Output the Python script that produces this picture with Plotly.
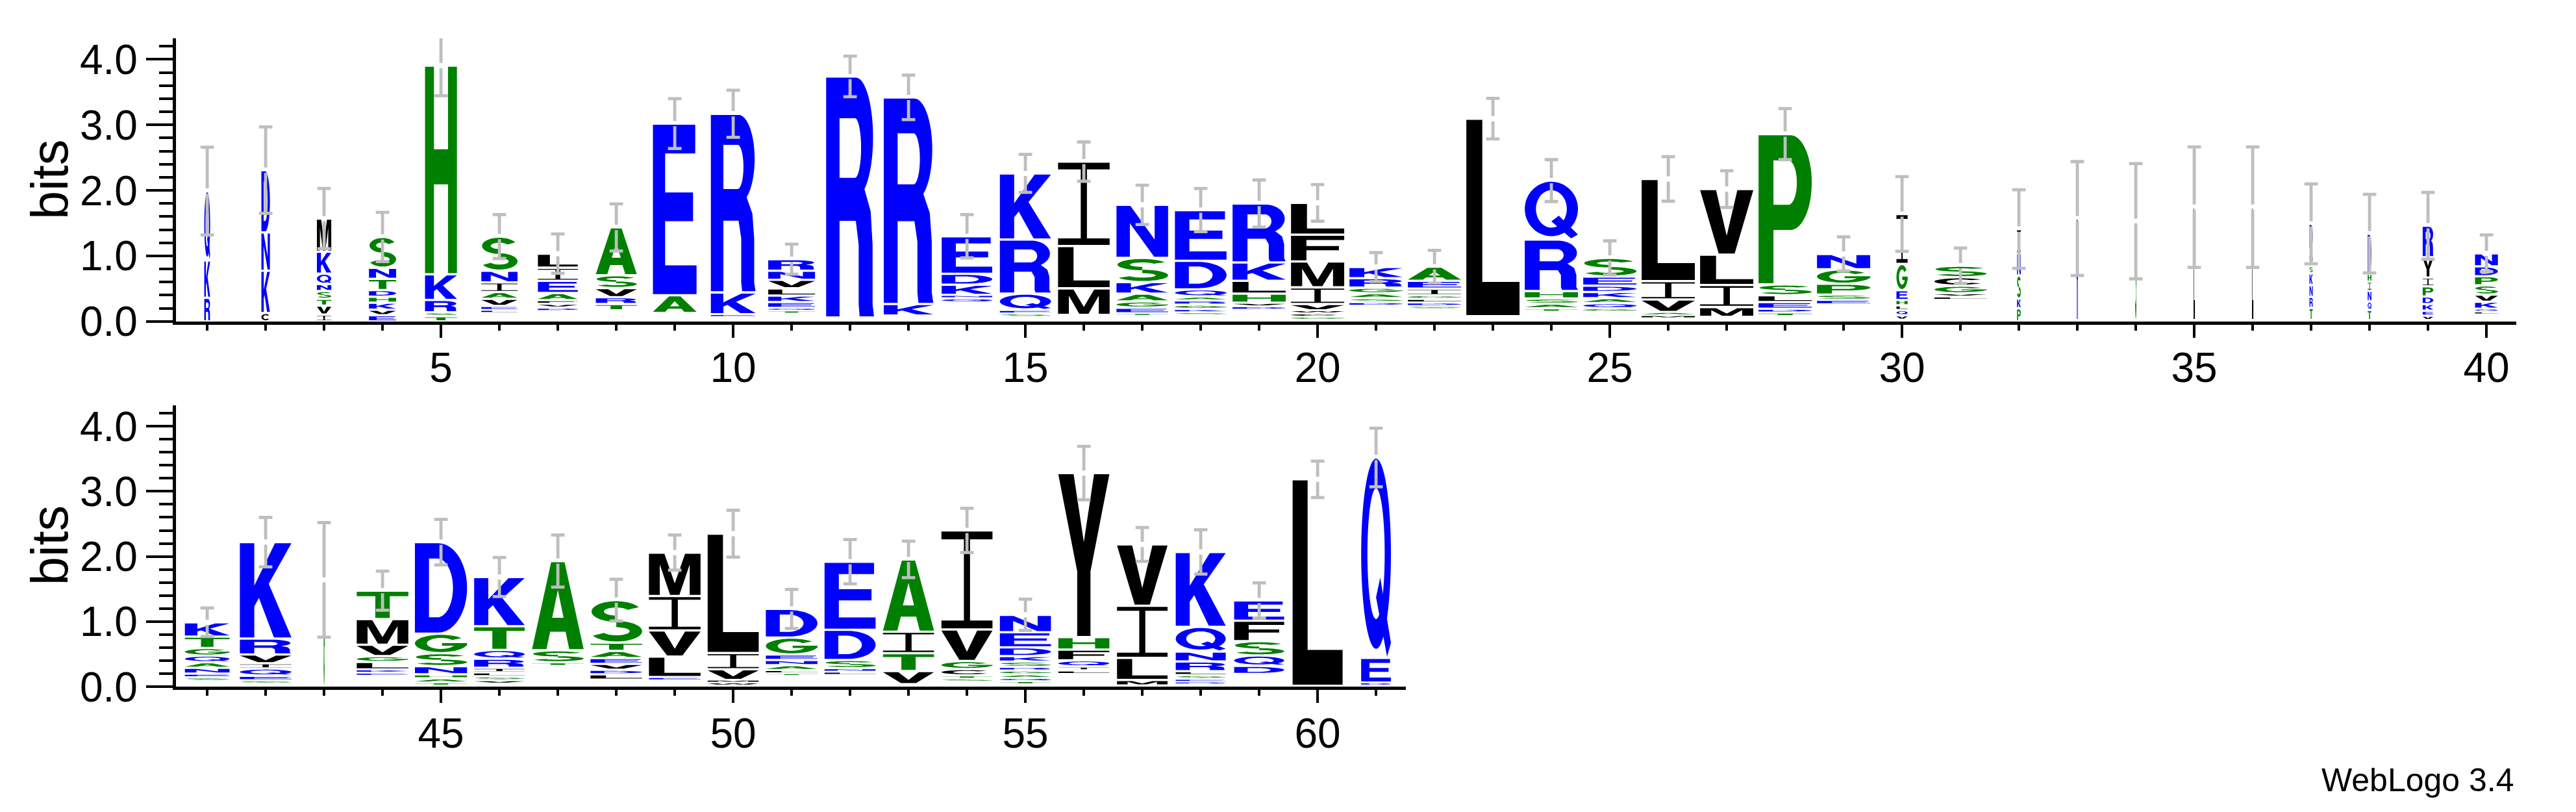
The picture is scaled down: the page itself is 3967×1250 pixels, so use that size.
import numpy as np
import plotly.graph_objects as go

POSITIONS = list(range(1, 62))

# fraction of full stack width (stacks are narrowed where most sequences have gaps)
STACK_WIDTH = [0.11, 0.16, 0.27, 0.51, 0.60, 0.68, 0.75, 0.77, 0.82, 0.84,
               0.88, 0.90, 0.93, 0.95, 0.96, 0.97, 0.97, 0.97, 1.00, 1.00,
               1.00, 1.00, 1.00, 1.00, 1.00, 1.00, 1.00, 1.00, 1.00, 0.21,
               0.98, 0.07, 0.025, 0.025, 0.025, 0.025, 0.06, 0.07, 0.20, 0.43,
               0.84, 0.97, 0.025, 0.97, 0.98, 0.95, 0.97, 0.97, 0.97, 0.96,
               0.97, 0.96, 0.96, 0.96, 0.96, 0.96, 0.95, 0.94, 0.94, 0.94, 0.56]

# total stack height (bits)
STACK_TOTAL = [1.99, 2.31, 1.57, 1.29, 3.905, 1.295, 1.035, 1.435, 3.02, 3.17,
               0.95, 3.74, 3.42, 1.30, 2.26, 2.44, 1.78, 1.70, 1.80, 1.81,
               0.83, 0.835, 3.095, 2.15, 0.97, 2.175, 2.02, 2.86, 1.03, 1.64,
               0.85, 1.41, 1.57, 1.53, 1.745, 1.745, 1.49, 1.34, 1.46, 1.04,
               0.99, 2.22, 1.64, 1.475, 2.22, 1.685, 1.93, 1.33, 2.06, 2.35,
               1.195, 1.92, 1.955, 2.40, 1.105, 3.28, 2.185, 2.07, 1.325, 3.185, 3.52]

# half length of the error bars (bits)
ERROR_HALF = [0.67, 0.66, 0.46, 0.375, 0.46, 0.335, 0.30, 0.36, 0.38, 0.36,
              0.23, 0.31, 0.34, 0.33, 0.29, 0.30, 0.30, 0.33, 0.36, 0.28,
              0.22, 0.25, 0.31, 0.32, 0.26, 0.34, 0.28, 0.39, 0.26, 0.57,
              0.27, 0.60, 0.87, 0.88, 0.92, 0.92, 0.61, 0.60, 0.51, 0.28,
              0.22, 0.38, 0.88, 0.30, 0.35, 0.30, 0.40, 0.32, 0.27, 0.36,
              0.30, 0.34, 0.28, 0.34, 0.24, 0.41, 0.26, 0.34, 0.27, 0.28, 0.45]

# letters of each stack, bottom to top, and their heights (bits)
STACK_LETTERS = ["RKQ", "CKND", "IVTSNQKM", "EVKHDTNS", "TSRKH", "LEVAINS", "DVFAEIL",
                 "TRVSA", "AE", "EKR", "TQEKLVNR", "R", "KR", "QNKDE", "SEQRK", "MLI",
                 "TEGAKSN", "SKGRAQDE", "DVHLKR", "GCWVIMFL", "DSAGRK", "SDLGIEA", "L",
                 "TASHRQ", "GQAKDES", "MAVIL", "MILV", "TDELSP", "ESPGN", "VQLHEGI",
                 "LVGCS", "PKSNI", "R", "S", "L", "L", "TRNKSGD", "TQNIHD", "VEKDPIYR",
                 "LQKVSPDN", "SENAQGTK", "SEQIVRK", "G", "EKLGVMT", "TAHNSGD", "VSLIRQTK",
                 "TSA", "LDVEATS", "ELVIM", "WMVIL", "TLANEGD", "LNSDE", "VTIA", "STCGVI",
                 "TQAGRSKDEN", "LIQFHY", "MLIV", "DESLRNQK", "DQSFE", "L", "DEQ"]

STACK_HEIGHTS = [
    [0.36, 0.57, 1.06],
    [0.13, 0.645, 0.585, 0.95],
    [0.105, 0.135, 0.105, 0.12, 0.105, 0.16, 0.335, 0.505],
    [0.095, 0.085, 0.105, 0.093, 0.102, 0.17, 0.17, 0.47],
    [0.08, 0.06, 0.187, 0.393, 3.185],
    [0.045, 0.06, 0.11, 0.105, 0.145, 0.18, 0.52],
    [0.05, 0.06, 0.055, 0.11, 0.185, 0.20, 0.215],
    [0.095, 0.105, 0.14, 0.195, 0.73],
    [0.27, 2.62],
    [0.04, 0.333, 2.727],
    [0.045, 0.04, 0.09, 0.10, 0.11, 0.13, 0.14, 0.175],
    [3.68],
    [0.175, 3.155],
    [0.065, 0.05, 0.155, 0.168, 0.572],
    [0.05, 0.055, 0.25, 0.825, 1.01],
    [0.405, 0.645, 1.29],
    [0.035, 0.085, 0.095, 0.12, 0.175, 0.37, 0.81],
    [0.04, 0.05, 0.065, 0.065, 0.06, 0.11, 0.435, 0.775],
    [0.05, 0.055, 0.14, 0.195, 0.28, 0.90],
    [0.04, 0.055, 0.045, 0.095, 0.255, 0.395, 0.41, 0.485],
    [0.055, 0.06, 0.075, 0.085, 0.145, 0.17],
    [0.045, 0.055, 0.055, 0.055, 0.10, 0.12, 0.215],
    [3.015],
    [0.05, 0.07, 0.08, 0.115, 0.785, 0.90],
    [0.05, 0.08, 0.075, 0.095, 0.095, 0.14, 0.285],
    [0.045, 0.05, 0.19, 0.28, 1.56],
    [0.15, 0.335, 0.465, 1.00],
    [0.055, 0.06, 0.10, 0.105, 0.165, 2.295],
    [0.07, 0.08, 0.165, 0.22, 0.235],
    [0.068, 0.08, 0.074, 0.08, 0.15, 0.40, 0.763],
    [0.05, 0.05, 0.115, 0.13, 0.175],
    [0.20, 0.15, 0.35, 0.34, 0.37],
    [1.55],
    [1.51],
    [1.725],
    [1.725],
    [0.185, 0.17, 0.18, 0.18, 0.11, 0.255, 0.39],
    [0.155, 0.13, 0.165, 0.135, 0.125, 0.61],
    [0.068, 0.075, 0.102, 0.115, 0.155, 0.135, 0.31, 0.48],
    [0.04, 0.045, 0.105, 0.11, 0.14, 0.14, 0.15, 0.20],
    [0.055, 0.055, 0.09, 0.085, 0.103, 0.117, 0.175, 0.22],
    [0.05, 0.07, 0.11, 0.08, 0.135, 0.245, 1.48],
    [1.63],
    [0.045, 0.05, 0.115, 0.09, 0.175, 0.395, 0.435],
    [0.045, 0.065, 0.06, 0.127, 0.198, 0.30, 1.405],
    [0.05, 0.06, 0.06, 0.07, 0.14, 0.135, 0.365, 0.755],
    [0.055, 0.185, 1.37],
    [0.08, 0.07, 0.09, 0.09, 0.11, 0.127, 0.653],
    [0.05, 0.312, 0.402, 0.528, 0.668],
    [0.045, 0.04, 0.163, 0.249, 1.833],
    [0.035, 0.05, 0.075, 0.08, 0.085, 0.26, 0.44],
    [0.05, 0.055, 0.125, 0.465, 1.045],
    [0.20, 0.275, 0.33, 1.11],
    [0.045, 0.05, 0.097, 0.123, 0.485, 1.52],
    [0.045, 0.05, 0.055, 0.06, 0.055, 0.08, 0.085, 0.135, 0.233, 0.267],
    [0.055, 0.06, 0.095, 0.165, 0.193, 2.517],
    [0.085, 0.34, 0.80, 0.941],
    [0.035, 0.045, 0.06, 0.058, 0.149, 0.153, 0.38, 1.15],
    [0.125, 0.16, 0.22, 0.313, 0.312],
    [3.17],
    [0.045, 0.377, 3.078],
]

ROW1_LAST = 40
Y_MAX = 4.3219
X_TICKS_DTICK = 5

# hydrophobicity colour scheme
COLOR_GROUPS = {"RKDENQ": "#0000ff", "SGHTAP": "#008000", "YVMCLFIW": "#000000"}


def letter_color(ch):
    for group, col in COLOR_GROUPS.items():
        if ch in group:
            return col
    return "#000000"


# ---------------- glyph outlines in a unit box ----------------
def arc(cx, cy, rx, ry, a0, a1, n=36):
    t = np.radians(np.linspace(a0, a1, n))
    return list(zip(cx + rx * np.cos(t), cy + ry * np.sin(t)))


GLYPHS = {
    "A": [[[(0, 0), (0.37, 1), (0.63, 1), (1, 0), (0.72, 0), (0.65, 0.2), (0.35, 0.2), (0.28, 0)],
           [(0.39, 0.36), (0.61, 0.36), (0.5, 0.68)]]],
    "C": [[arc(.5, .5, .5, .5, 40, 320, 48) + arc(.5, .5, .27, .32, 320, 40, 48)]],
    "D": [[[(0, 0), (0, 1), (0.45, 1)] + arc(0.45, 0.5, 0.55, 0.5, 90, -90) + [(0.45, 0)],
           [(0.27, 0.17), (0.27, 0.83), (0.43, 0.83)] + arc(0.43, 0.5, 0.3, 0.33, 90, -90) + [(0.43, 0.17)]]],
    "E": [[[(0, 0), (0, 1), (0.97, 1), (0.97, 0.83), (0.28, 0.83), (0.28, 0.6), (0.92, 0.6),
            (0.92, 0.43), (0.28, 0.43), (0.28, 0.17), (1, 0.17), (1, 0)]]],
    "F": [[[(0, 0), (0, 1), (1, 1), (1, 0.83), (0.29, 0.83), (0.29, 0.58), (0.9, 0.58),
            (0.9, 0.41), (0.29, 0.41), (0.29, 0)]]],
    "G": [[arc(.5, .5, .5, .5, 38, 355, 48) + arc(.5, .5, .27, .32, 355, 38, 48)],
          [[(0.52, 0.37), (0.52, 0.52), (1, 0.52), (1, 0.37)]]],
    "H": [[[(0, 0), (0, 1), (0.28, 1), (0.28, 0.6), (0.72, 0.6), (0.72, 1), (1, 1), (1, 0),
            (0.72, 0), (0.72, 0.43), (0.28, 0.43), (0.28, 0)]]],
    "I": [[[(0, 0), (0, 0.08), (0.44, 0.08), (0.44, 0.92), (0, 0.92), (0, 1), (1, 1), (1, 0.92),
            (0.56, 0.92), (0.56, 0.08), (1, 0.08), (1, 0)]]],
    "K": [[[(0, 0), (0, 1), (0.28, 1), (0.28, 0.55), (0.68, 1), (1, 1), (0.56, 0.57), (1, 0),
            (0.66, 0), (0.37, 0.42), (0.28, 0.33), (0.28, 0)]]],
    "L": [[[(0, 0), (0, 1), (0.3, 1), (0.3, 0.17), (1, 0.17), (1, 0)]]],
    "M": [[[(0, 0), (0, 1), (0.3, 1), (0.5, 0.28), (0.7, 1), (1, 1), (1, 0), (0.79, 0),
            (0.79, 0.74), (0.59, 0), (0.41, 0), (0.21, 0.74), (0.21, 0)]]],
    "N": [[[(0, 0), (0, 1), (0.27, 1), (0.74, 0.34), (0.74, 1), (1, 1), (1, 0), (0.73, 0),
            (0.26, 0.66), (0.26, 0)]]],
    "P": [[[(0, 0), (0, 1), (0.6, 1)] + arc(0.6, 0.68, 0.4, 0.32, 90, -90) + [(0.6, 0.36), (0.28, 0.36), (0.28, 0)],
           [(0.28, 0.53), (0.28, 0.83), (0.56, 0.83)] + arc(0.56, 0.68, 0.16, 0.15, 90, -90) + [(0.56, 0.53)]]],
    "Q": [[arc(.5, .52, .5, .48, 0, 360, 64), arc(.5, .52, .29, .33, 0, 360, 64)],
          [[(0.5, 0.3), (0.64, 0.4), (1.0, 0.07), (0.87, 0.0)]]],
    "R": [[[(0, 0), (0, 1), (0.62, 1)] + arc(0.62, 0.75, 0.36, 0.25, 90, -60)
           + [(0.93, 0.44), (0.97, 0.3), (0.97, 0.05), (1.0, 0.0), (0.7, 0.0), (0.68, 0.05),
              (0.68, 0.3), (0.62, 0.4), (0.28, 0.4), (0.28, 0)],
           [(0.28, 0.58), (0.28, 0.83), (0.6, 0.83)] + arc(0.6, 0.705, 0.13, 0.125, 90, -90) + [(0.6, 0.58)]]],
    "S": [[arc(.5, .745, .48, .255, 25, 270, 40) + arc(.5, .745, .24, .1, 270, 25, 40)],
          [arc(.5, .255, .5, .255, 90, -155, 40) + arc(.5, .255, .26, .1, -155, 90, 40)]],
    "T": [[[(0.36, 0), (0.36, 0.83), (0, 0.83), (0, 1), (1, 1), (1, 0.83), (0.64, 0.83), (0.64, 0)]]],
    "V": [[[(0, 1), (0.3, 1), (0.5, 0.28), (0.7, 1), (1, 1), (0.65, 0), (0.35, 0)]]],
    "W": [[[(0, 1), (0.2, 1), (0.3, 0.35), (0.42, 1), (0.58, 1), (0.7, 0.35), (0.8, 1), (1, 1),
            (0.82, 0), (0.62, 0), (0.5, 0.62), (0.38, 0), (0.18, 0)]]],
    "Y": [[[(0, 1), (0.3, 1), (0.5, 0.58), (0.7, 1), (1, 1), (0.63, 0.4), (0.63, 0), (0.37, 0),
            (0.37, 0.4)]]],
}

FULL_WIDTH = 0.91       # stack width in position units
LETTER_PAD = 0.0175     # white gap above/below each glyph (bits)


def glyph_paths(ch, x0, x1, y0, y1):
    out = []
    for part in GLYPHS[ch]:
        segs = []
        for contour in part:
            pts = [f"{x0 + u * (x1 - x0):.4f},{y0 + v * (y1 - y0):.4f}" for u, v in contour]
            segs.append("M " + " L ".join(pts) + " Z")
        out.append(" ".join(segs))
    return out


shapes = []
err_x = {1: [], 2: []}
err_y = {1: [], 2: []}
CAP = 0.115
GAP = 0.04

for i, p in enumerate(POSITIONS):
    row = 1 if p <= ROW1_LAST else 2
    xref, yref = ("x", "y") if row == 1 else ("x2", "y2")
    w = FULL_WIDTH * STACK_WIDTH[i]
    xa, xb = p - w / 2, p + w / 2
    heights = STACK_HEIGHTS[i]
    letters = STACK_LETTERS[i]
    total = STACK_TOTAL[i]
    y = max(0.0, total - sum(heights))
    for ch, h in zip(letters, heights):
        pad = min(LETTER_PAD, 0.3 * h)
        for path in glyph_paths(ch, xa, xb, y + pad, y + h - pad):
            shapes.append(dict(type="path", path=path, xref=xref, yref=yref,
                               fillcolor=letter_color(ch), line=dict(width=0),
                               layer="below", fillrule="evenodd"))
        y += h
    top = total
    e = ERROR_HALF[i]
    ex, ey = err_x[row], err_y[row]
    ex += [p, p, None, p - CAP, p + CAP, None, p, p, None, p - CAP, p + CAP, None]
    ey += [top + GAP, top + e, None, top + e, top + e, None,
           top - GAP, top - e, None, top - e, top - e, None]

fig = go.Figure()
for row, (xa_, ya_) in {1: ("x", "y"), 2: ("x2", "y2")}.items():
    fig.add_trace(go.Scatter(x=err_x[row], y=err_y[row], xaxis=xa_, yaxis=ya_,
                             mode="lines", line=dict(color="#bebebe", width=4.8),
                             hoverinfo="skip", showlegend=False))

W, H = 3967, 1250
FONT = "Liberation Sans, Arial, Helvetica, sans-serif"
axis_common = dict(showline=True, linecolor="black", linewidth=4.5, showgrid=False,
                   zeroline=False, ticks="outside", tickcolor="black",
                   tickfont=dict(family=FONT, size=64, color="black"), fixedrange=True)

xcommon = dict(axis_common, tickmode="linear", tick0=0, dtick=X_TICKS_DTICK, ticklen=20, tickwidth=4,
               ticklabelstandoff=-8,
               minor=dict(tick0=0, dtick=1, ticklen=9, tickwidth=4, ticks="outside",
                          tickcolor="black"))
ycommon = dict(axis_common, tickmode="linear", tick0=0, dtick=1, tickformat=".1f",
               ticklen=41, tickwidth=4, range=[0, Y_MAX],
               minor=dict(tick0=0, dtick=0.2, ticklen=21, tickwidth=4, ticks="outside",
                          tickcolor="black"))

x_left = 262.5 / W
fig.update_layout(
    width=W, height=H, margin=dict(l=0, r=0, t=0, b=0), autosize=False,
    paper_bgcolor="white", plot_bgcolor="white", showlegend=False,
    shapes=shapes,
    xaxis=dict(xcommon, domain=[x_left, 3867 / W], range=[0.46, 40.51], anchor="y"),
    yaxis=dict(ycommon, domain=[750 / H, (750 + Y_MAX * 104.0) / H], anchor="x"),
    xaxis2=dict(xcommon, domain=[x_left, 2157 / W], range=[40.46, 61.51], anchor="y2"),
    yaxis2=dict(ycommon, domain=[170 / H, (170 + Y_MAX * 103.4) / H], anchor="x2"),
    annotations=[
        dict(text="bits", xref="paper", yref="paper", x=69 / W, y=(H - 275) / H,
             xanchor="center", yanchor="middle", textangle=-90, showarrow=False,
             font=dict(family=FONT, size=79, color="black")),
        dict(text="bits", xref="paper", yref="paper", x=69 / W, y=(H - 856) / H,
             xanchor="center", yanchor="middle", textangle=-90, showarrow=False,
             font=dict(family=FONT, size=79, color="black")),
        dict(text="WebLogo 3.4", xref="paper", yref="paper", x=3866 / W, y=(H - 1228) / H,
             xanchor="right", yanchor="middle", showarrow=False,
             font=dict(family=FONT, size=50, color="black")),
    ],
)

fig.write_html("out.html")
